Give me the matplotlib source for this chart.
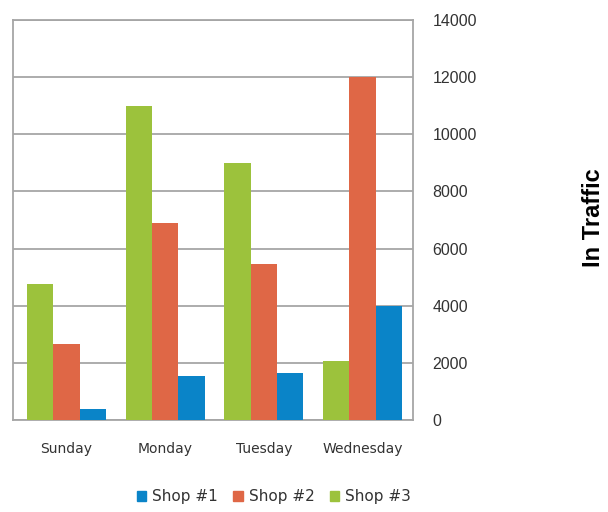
import matplotlib
matplotlib.use("Agg")
import matplotlib.pyplot as plt
import numpy as np
from matplotlib.patches import Patch

days = ["Sunday", "Monday", "Tuesday", "Wednesday"]
shop1 = [400, 1550, 1650, 4000]
shop2 = [2650, 6900, 5450, 12000]
shop3 = [4750, 11000, 9000, 2050]
yticks = [0, 2000, 4000, 6000, 8000, 10000, 12000, 14000]

c1 = "#0A84C8"
c2 = "#DF6746"
c3 = "#9CC23C"
grid_c = "#A6A6A6"

fig = plt.figure(figsize=(6.08, 5.12), dpi=100)
ax = fig.add_axes([13/608, 92/512, 400/608, 400/512])

x = np.arange(len(days))
w = 0.267
ax.bar(x - w, shop3, w, color=c3, zorder=3)
ax.bar(x, shop2, w, color=c2, zorder=3)
ax.bar(x + w, shop1, w, color=c1, zorder=3)

ax.set_xlim(-0.54, 3.51)
ax.set_ylim(0, 14000)
ax.set_yticks(yticks)
ax.set_yticklabels([str(v) for v in yticks], fontsize=11.5, color="#333333",
                   family="Liberation Sans")
ax.yaxis.tick_right()
ax.tick_params(axis="y", length=0, pad=14)
ax.set_xticks(x)
ax.set_xticklabels(days, fontsize=10, color="#333333")
ax.tick_params(axis="x", length=0, pad=16)
ax.grid(axis="y", color=grid_c, linewidth=1.3, zorder=0)
for s in ax.spines.values():
    s.set_color(grid_c)
    s.set_linewidth(1.3)

fig.text(593/608, 1 - 218/512, "In Traffic", rotation=90, fontsize=17,
         fontweight="bold", ha="center", va="center", family="Liberation Sans")

handles = [Patch(color=c1, label="Shop #1"), Patch(color=c2, label="Shop #2"),
           Patch(color=c3, label="Shop #3")]
fig.legend(handles=handles, loc="center", bbox_to_anchor=(274/608, 1 - 497/512),
           ncol=3, frameon=False, fontsize=11, handlelength=0.6, handleheight=0.6,
           handletextpad=0.4, columnspacing=1.0, labelcolor="#333333")

fig.savefig("out.png", dpi=100)
